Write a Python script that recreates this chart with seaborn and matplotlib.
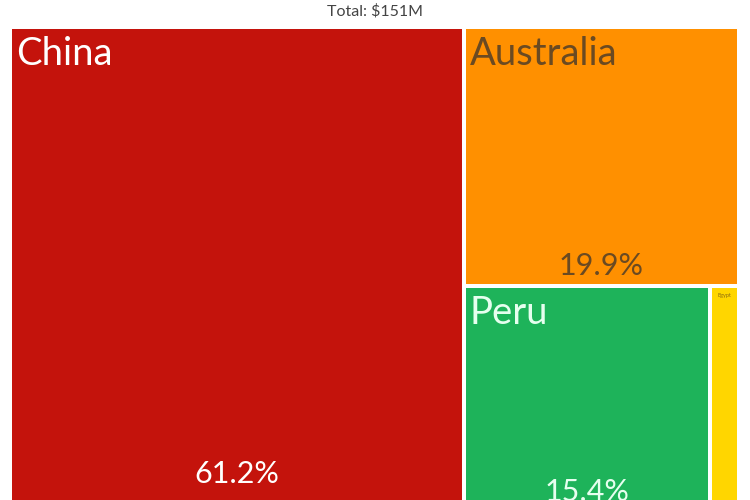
import matplotlib
matplotlib.use("Agg")
import matplotlib.pyplot as plt
import seaborn as sns
from matplotlib.patches import Rectangle

countries = ["China", "Australia", "Peru", "Egypt"]
shares = [61.2, 19.9, 15.4, 1.8]
colors = ["#C4130C", "#FF9000", "#1EB35A", "#FFD600"]
text_colors = ["#FFFFFF", "#6A4A22", "#E6FFEF", "#8A6A10"]
total_label = "Total: $151M"

sns.set_theme(style="white")
plt.rcParams["font.family"] = ["Lato", "DejaVu Sans"]

W, H = 729, 483  # treemap box, in pixels


def worst(row, side):
    s = sum(row)
    return max(max(side * side * r / (s * s), s * s / (side * side * r)) for r in row)


def squarify(vals, x, y, w, h):
    # vals are areas in px^2
    rects = []
    vals = list(vals)
    while vals:
        side = min(w, h)
        row = [vals.pop(0)]
        while vals and worst(row + [vals[0]], side) <= worst(row, side):
            row.append(vals.pop(0))
        s = sum(row)
        if w >= h:
            cw = s / h
            yy = y
            for r in row:
                rects.append((x, yy, cw, r / cw))
                yy += r / cw
            x += cw
            w -= cw
        else:
            rh = s / w
            xx = x
            for r in row:
                rects.append((xx, y, r / rh, rh))
                xx += r / rh
            y += rh
            h -= rh
    return rects


areas = [v / sum(shares) * W * H for v in shares]
rects = squarify(areas, 0, 0, W, H)

fig = plt.figure(figsize=(7.5, 5), dpi=100)
ax = fig.add_axes([10 / 750, 1 - (27 + H) / 500, W / 750, H / 500])
ax.set_xlim(0, W)
ax.set_ylim(H, 0)
ax.axis("off")

gap = 2
for i, (x, y, w, h) in enumerate(rects):
    ax.add_patch(Rectangle((x + gap, y + gap), w - 2 * gap, h - 2 * gap,
                           facecolor=colors[i], edgecolor="none", clip_on=False))
    if w > 100:
        ax.text(x + gap + 4, y + gap + 7, countries[i], ha="left", va="top",
                fontsize=27.5, color=text_colors[i], clip_on=False)
        ax.text(x + w / 2, y + h - gap - 0.07 * h, f"{shares[i]:.1f}%",
                ha="center", va="center", fontsize=22, color=text_colors[i],
                clip_on=False)
    else:
        ax.text(x + w / 2, y + gap + 5, countries[i], ha="center", va="top",
                fontsize=4, color=text_colors[i], clip_on=False)

fig.text(0.5, 1 - 11 / 500, total_label, ha="center", va="center",
         fontsize=11.5, color="#444444")

fig.savefig("out.png", dpi=100)
